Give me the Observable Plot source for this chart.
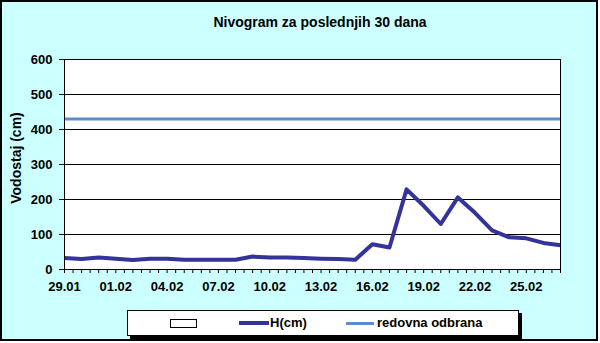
<!DOCTYPE html>
<html>
<head>
<meta charset="utf-8">
<script src="https://cdn.jsdelivr.net/npm/d3@7"></script>
<script src="https://cdn.jsdelivr.net/npm/@observablehq/plot@0.6"></script>
<style>
  body { margin: 0; background: #fff; }
  #wrap { position: relative; width: 600px; height: 343px; font-family: "Liberation Sans", Arial, sans-serif; font-weight: bold; color: #000; }
  #bg { position: absolute; left: 0; top: 0; width: 598px; height: 341px; background: #CCFFFF; border: 2px solid #000; box-sizing: border-box; }
  #chart { position: absolute; left: 0; top: 0; }
  #title { position: absolute; left: 170px; top: 14px; width: 300px; text-align: center; font-size: 14px; line-height: 16px; white-space: nowrap; }
  #ylabel { position: absolute; left: -84px; top: 150px; width: 200px; text-align: center; font-size: 14px; line-height: 16px; transform: rotate(-90deg); white-space: nowrap; }
  #legend { position: absolute; left: 127px; top: 310px; width: 392px; height: 26px; background: #fff; border: 1px solid #000; box-sizing: border-box; box-shadow: 3px 3px 0 #000; font-size: 13px; }
  #legend .it { position: absolute; }
  #legend .txt { position: absolute; top: 4px; line-height: 16px; white-space: nowrap; }
</style>
</head>
<body>
<div id="wrap">
  <div id="bg"></div>
  <div id="chart"></div>
  <div id="title"></div>
  <div id="ylabel"></div>
  <div id="legend"></div>
</div>
<script>
// ---- data ----
const dates = ["29.01","30.01","31.01","01.02","02.02","03.02","04.02","05.02","06.02","07.02",
               "08.02","09.02","10.02","11.02","12.02","13.02","14.02","15.02","16.02","17.02",
               "18.02","19.02","20.02","21.02","22.02","23.02","24.02","25.02","26.02","27.02"];
const H = [33,30,34,31,27,31,31,28,28,28,
           28,37,34,34,33,31,30,28,72,63,
           229,182,130,206,162,112,92,89,76,69];
const redovnaOdbrana = 430;
const yTicks = [0,100,200,300,400,500,600];
const labelStep = 3;
const titleText = "Nivogram za poslednjih 30 dana";
const yLabelText = "Vodostaj (cm)";
const seriesNames = ["", "H(cm)", "redovna odbrana"];
const colors = { H: "#333399", redovna: "#5B8BD2", bg: "#CCFFFF" };

// ---- build ----
const data = dates.map((d, i) => ({ i, d, h: H[i] }));
const labelIdx = dates.map((d, i) => i).filter(i => i % labelStep === 0);
const minorTicks = d3.range(0, dates.length - 1 + 0.001, 0.5);

const chart = Plot.plot({
  width: 600,
  height: 343,
  marginLeft: 64,
  marginRight: 40,
  marginTop: 59,
  marginBottom: 74,
  x: { type: "linear", domain: [0, dates.length - 1] },
  y: { domain: [0, 600] },
  style: { background: "transparent", color: "black", fontFamily: "'Liberation Sans', Arial, sans-serif", fontSize: "13px", fontWeight: "bold", overflow: "visible" },
  marks: [
    Plot.frame({ fill: "white", stroke: null }),
    Plot.gridY(yTicks.filter(v => v > 0), { stroke: "black", strokeOpacity: 1 }),
    Plot.ruleY([redovnaOdbrana], { stroke: colors.redovna, strokeWidth: 3 }),
    Plot.line(data, { x: "i", y: "h", stroke: colors.H, strokeWidth: 4, strokeLinejoin: "round", strokeLinecap: "butt" }),
    Plot.frame({ stroke: "black" }),
    Plot.axisY({ ticks: yTicks, tickSize: 5, tickPadding: 7, tickFormat: d => String(d), label: null }),
    Plot.axisX({ ticks: minorTicks, tickSize: 4, tickFormat: () => "", label: null }),
    Plot.axisX({ ticks: labelIdx, tickSize: 0, tickPadding: 12, tickFormat: i => dates[i], label: null })
  ]
});
document.getElementById("chart").appendChild(chart);
document.getElementById("title").textContent = titleText;
document.getElementById("ylabel").textContent = yLabelText;

// legend
const lg = document.getElementById("legend");
lg.innerHTML = `
  <div class="it" style="left:42px;top:8px;width:25px;height:7px;border:1px solid #000;background:#fff;"></div>
  <div class="txt" style="left:72px;">${seriesNames[0]}</div>
  <div class="it" style="left:111px;top:10px;width:30px;height:4px;background:${colors.H};"></div>
  <div class="txt" style="left:142px;">${seriesNames[1]}</div>
  <div class="it" style="left:218px;top:10.5px;width:28px;height:3px;background:${colors.redovna};"></div>
  <div class="txt" style="left:249px;">${seriesNames[2]}</div>
`;
</script>
</body>
</html>
